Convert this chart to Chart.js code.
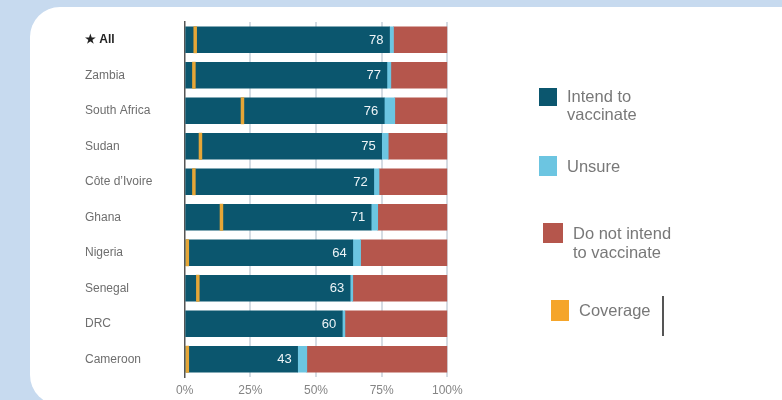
<!DOCTYPE html>
<html>
<head>
<meta charset="utf-8">
<script src="https://cdn.jsdelivr.net/npm/chart.js@4.4.1/dist/chart.umd.min.js"></script>
<style>
  html, body { margin:0; padding:0; width:782px; height:400px; overflow:hidden; background:#c7daef; font-family:"Liberation Sans", Arial, sans-serif; }
  #card { position:absolute; left:30px; top:7px; width:770px; height:398px; background:#fff; border-radius:30px 18px 0 30px; }
  #wrap { position:absolute; left:0; top:0; width:782px; height:400px; }
  .sq { position:absolute; }
  .lt { position:absolute; color:#787878; font-size:16.5px; line-height:18px; white-space:nowrap; }
  #vline { position:absolute; left:662px; top:296px; width:1.5px; height:40px; background:#555; }
</style>
</head>
<body>
<div id="card"></div>
<div id="wrap"><canvas id="c"></canvas></div>

<div class="sq" style="left:539px;top:88px;width:18px;height:18px;background:#0b566e;"></div>
<div class="lt" style="left:567px;top:87px;">Intend to<br>vaccinate</div>

<div class="sq" style="left:539px;top:156px;width:18px;height:20px;background:#6cc5e1;"></div>
<div class="lt" style="left:567px;top:157px;">Unsure</div>

<div class="sq" style="left:543px;top:223px;width:20px;height:20px;background:#b5564c;"></div>
<div class="lt" style="left:573px;top:224px;line-height:19px;">Do not intend<br>to vaccinate</div>

<div class="sq" style="left:551px;top:300px;width:18px;height:21px;background:#f5a52a;"></div>
<div class="lt" style="left:579px;top:301px;">Coverage</div>
<div id="vline"></div>

<script>
const categories = ['★ All', 'Zambia', 'South Africa', 'Sudan', 'Côte d’Ivoire', 'Ghana', 'Nigeria', 'Senegal', 'DRC', 'Cameroon'];
const intend     = [78, 77, 76, 75, 72, 71, 64, 63, 60, 43];
const unsure     = [1.5, 1.5, 4, 2.5, 2, 2.5, 3, 1, 1, 3.5];
const notIntend  = [20.5, 21.5, 20, 22.5, 26, 26.5, 33, 36, 39, 53.5];
const coverage   = [4, 3.5, 22, 6, 3.5, 14, 1, 5, null, 1];
const xTicks     = [0, 25, 50, 75, 100];

const FONT = '"Liberation Sans", Arial, sans-serif';

const valueLabels = {
  id: 'valueLabels',
  afterDatasetsDraw(chart) {
    const meta = chart.getDatasetMeta(0);
    const ctx = chart.ctx;
    ctx.save();
    ctx.fillStyle = '#eef4f7';
    ctx.font = '13px ' + FONT;
    ctx.textAlign = 'right';
    ctx.textBaseline = 'middle';
    meta.data.forEach((bar, i) => {
      ctx.fillText(String(intend[i]), bar.x - 6, bar.y + 0.5);
    });
    ctx.restore();
  }
};

new Chart(document.getElementById('c'), {
  type: 'bar',
  data: {
    labels: categories,
    datasets: [
      { label: 'Intend to vaccinate', data: intend, backgroundColor: '#0b566e', barThickness: 26, stack: 's' },
      { label: 'Unsure', data: unsure, backgroundColor: '#6cc5e1', barThickness: 26, stack: 's' },
      { label: 'Do not intend to vaccinate', data: notIntend, backgroundColor: '#b5564c', barThickness: 26, stack: 's' },
      {
        type: 'scatter', label: 'Coverage', stack: 'cov', order: -1,
        data: coverage.map((v, i) => ({ x: v, y: categories[i] })),
        pointStyle: 'line', rotation: 90, radius: 13.5, hoverRadius: 13.5,
        borderWidth: 3.5, hoverBorderWidth: 3.5, borderColor: '#e6a637', backgroundColor: '#e6a637',
        showLine: false
      }
    ]
  },
  options: {
    indexAxis: 'y',
    responsive: true,
    maintainAspectRatio: false,
    animation: false,
    layout: { padding: { left: 85, top: 22, right: 334.7, bottom: 0 } },
    plugins: { legend: { display: false }, tooltip: { enabled: false } },
    scales: {
      x: {
        stacked: true, min: 0, max: 100,
        afterBuildTicks(scale) { scale.ticks = xTicks.map(v => ({ value: v })); },
        afterFit(scale) { scale.height = 23; },
        grid: { color: (c) => c.index === 0 ? 'rgba(0,0,0,0)' : '#d5dce3', lineWidth: 2, drawTicks: false },
        border: { display: false },
        ticks: { padding: 6, color: '#858585', font: { family: FONT, size: 12 }, callback: (v) => v + '%' }
      },
      y: {
        stacked: true,
        afterFit(scale) { scale.width = 99.7; },
        grid: { display: false, drawTicks: false },
        border: { display: true, color: '#555', width: 1.5 },
        ticks: {
          crossAlign: 'far', padding: 0,
          color: (c) => c.index === 0 ? '#222' : '#6e6e6e',
          font: (c) => ({ family: FONT, size: 12, weight: c.index === 0 ? 'bold' : 'normal' })
        }
      }
    }
  },
  plugins: [valueLabels]
});
</script>
</body>
</html>
